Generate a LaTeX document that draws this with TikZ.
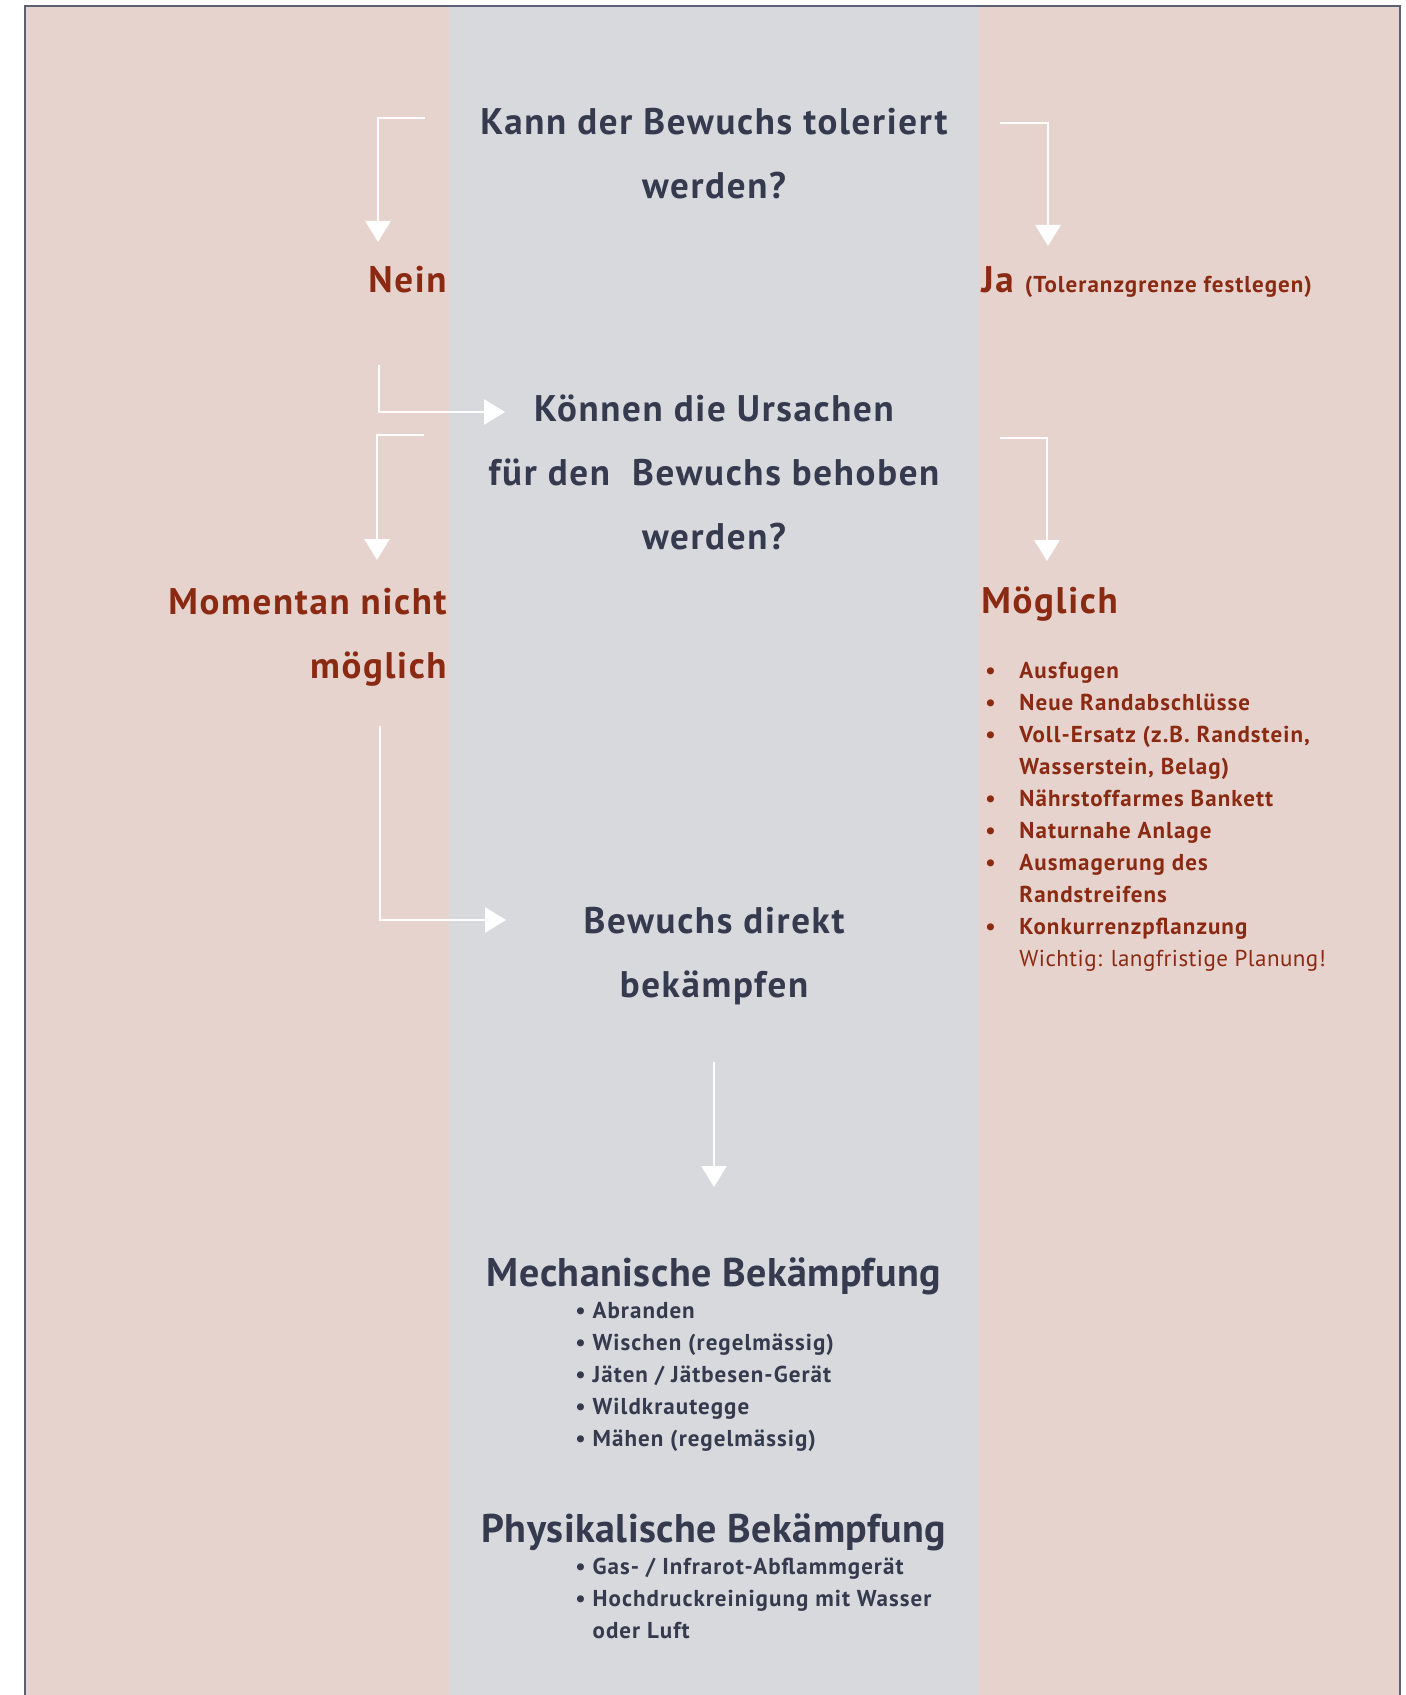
\documentclass[tikz,border=0pt]{standalone}
\usepackage{fontspec}
\setmainfont{PT Sans}[LetterSpace=4.5]
\newfontfamily\headfont{PT Sans}[LetterSpace=1.2]
\newfontfamily\plainfont{PT Sans}[LetterSpace=2]
\usetikzlibrary{arrows.meta}
\definecolor{rose}{HTML}{E6D3CE}
\definecolor{mist}{HTML}{D8D9DD}
\definecolor{ink}{HTML}{363A4F}
\definecolor{rust}{HTML}{8B2A12}
\definecolor{rim}{HTML}{5D6072}
\newcommand\qfont{\fontsize{18.5}{32}\selectfont\bfseries}
\newcommand\hfont{\fontsize{20}{24}\selectfont\headfont\bfseries}
\newcommand\lfont{\fontsize{11.5}{16}\selectfont\bfseries}
\newcommand\blt{\makebox[17pt][l]{\textbullet}}
\newcommand\ind{\hspace*{17pt}}
\tikzset{
	question/.style={font=\qfont, text=ink, align=center, inner sep=0pt},
	answer/.style={font=\qfont, text=rust, inner sep=0pt},
	heading/.style={font=\hfont, text=ink, inner sep=0pt},
	measures/.style={font=\lfont, align=left, inner sep=0pt},
	flow/.style={draw=white, line width=1.3pt, -{Triangle[width=12.5pt,length=10.5pt]}},
}

\begin{document}
\begin{tikzpicture}[x=0.5pt, y=-0.5pt]
			%%%%% BACKGROUND %%%%%
			\useasboundingbox (0, 0) rectangle (1406, 1695);
			\fill[white] (0, 0) rectangle (1406, 1695);
			\fill[rose] (25, 6) rectangle (1400, 1695);
			\fill[mist] (449, 6) rectangle (979, 1695);
			\draw[rim, line width=1pt] (25, 1695) -- (25, 6) -- (1400, 6) -- (1400, 1695);
			
			%%%%% QUESTIONS %%%%%
			\node[question, anchor=north] (tolerate) at (714, 108) {Kann der Bewuchs toleriert\\werden?};
			\node[answer, anchor=base east] (nein) at (447, 293) {Nein};
			\node[answer, anchor=base west] (ja) at (981, 293) {Ja {\fontsize{11.5}{13}\selectfont (Toleranzgrenze festlegen)}};
			
			\node[question, anchor=north] (causes) at (714, 394) {Können die Ursachen\\für den\ \ Bewuchs behoben\\werden?};
			\node[answer, anchor=north east, align=right] (notnow) at (447, 588) {Momentan nicht\\möglich};
			\node[answer, anchor=base west] (possible) at (981, 613) {Möglich};
			
			\node[measures, text=rust, anchor=north west] (fixes) at (985, 662) {%
				\blt Ausfugen\\
				\blt Neue Randabschlüsse\\
				\blt Voll-Ersatz (z.B. Randstein,\\
				\ind Wasserstein, Belag)\\
				\blt Nährstoffarmes Bankett\\
				\blt Naturnahe Anlage\\
				\blt Ausmagerung des\\
				\ind Randstreifens\\
				\blt Konkurrenzpflanzung\\
				\ind{\plainfont\mdseries Wichtig: langfristige Planung!}};
			
			\node[question, anchor=north] (direct) at (714, 907) {Bewuchs direkt\\bekämpfen};
			
			%%%%% MEASURES %%%%%
			\node[heading, anchor=base] (mech) at (714, 1286) {Mechanische Bekämpfung};
			\node[measures, text=ink, anchor=north west] (mechlist) at (575, 1302) {%
				\textbullet\ Abranden\\
				\textbullet\ Wischen (regelmässig)\\
				\textbullet\ Jäten / Jätbesen-Gerät\\
				\textbullet\ Wildkrautegge\\
				\textbullet\ Mähen (regelmässig)};
			\node[heading, anchor=base] (phys) at (714, 1542) {Physikalische Bekämpfung};
			\node[measures, text=ink, anchor=north west] (physlist) at (575, 1557) {%
				\textbullet\ Gas- / Infrarot-Abflammgerät\\
				\textbullet\ Hochdruckreinigung mit Wasser\\
				\phantom{\textbullet\ }oder Luft};
			
			%%%%% ARROWS %%%%%
			\coordinate (tolW) at (425, 118);
			\coordinate (tolE) at (1000, 123);
			\coordinate (neinT) at (378, 242);
			\coordinate (jaT) at (1048, 246);
			\coordinate (neinB) at (379, 365);
			\coordinate (causesIn) at (505, 412);
			\coordinate (causesW) at (424, 435);
			\coordinate (causesE) at (1000, 438);
			\coordinate (notnowT) at (377, 560);
			\coordinate (possibleT) at (1047, 561);
			\coordinate (notnowB) at (380, 726);
			\coordinate (directIn) at (506, 920);
			\coordinate (directB) at (714, 1062);
			\coordinate (mechT) at (714, 1187);
			
			\draw[flow] (tolW) -| (neinT);
			\draw[flow] (tolE) -| (jaT);
			\draw[flow] (neinB) |- (causesIn);
			\draw[flow] (causesW) -| (notnowT);
			\draw[flow] (causesE) -| (possibleT);
			\draw[flow] (notnowB) |- (directIn);
			\draw[flow] (directB) -- (mechT);
\end{tikzpicture}
\end{document}
